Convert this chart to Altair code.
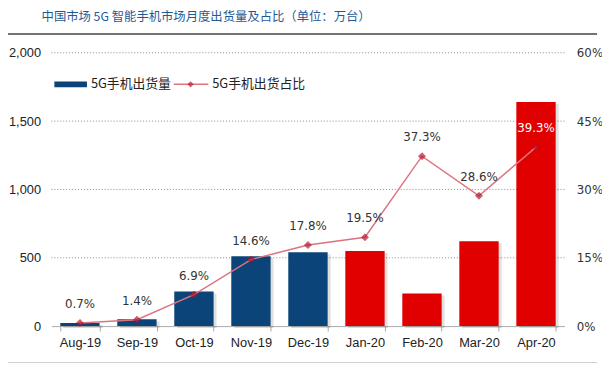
import altair as alt
import pandas as pd

months = ["Aug-19", "Sep-19", "Oct-19", "Nov-19", "Dec-19", "Jan-20", "Feb-20", "Mar-20", "Apr-20"]
shipments = [22, 50, 253, 512, 541, 549, 238, 621, 1639]
share = [0.7, 1.4, 6.9, 14.6, 17.8, 19.5, 37.3, 28.6, 39.3]
period = ["2019", "2019", "2019", "2019", "2019", "2020", "2020", "2020", "2020"]
label_color = ["dark"] * 8 + ["light"]
left_ticks = [0, 500, 1000, 1500, 2000]
right_ticks = [0, 15, 30, 45, 60]

df = pd.DataFrame({"month": months, "shipments": shipments, "share": share,
                   "period": period, "lc": label_color})
df["label"] = [f"{v:.1f}%" for v in share]

BLUE = "#0b4478"
RED = "#e00000"
LINE = "#dc7480"
MARK = "#c41230"

xenc = alt.X("month:N", sort=months, title=None,
             scale=alt.Scale(paddingInner=0.31, paddingOuter=0.155),
             axis=alt.Axis(labelAngle=0, labelFont="Liberation Sans", labelFontSize=13,
                           labelColor="#222", labelPadding=6, domainColor="#aaa",
                           tickColor="#aaa", tickSize=5, tickBand="extent",
                           bandPosition=0, grid=False))

left_axis = alt.Axis(values=left_ticks, format=",d", grid=False,
                     domain=False, ticks=False,
                     labelFont="Liberation Sans", labelFontSize=13, labelColor="#222",
                     labelPadding=11)
lscale = alt.Scale(domain=[0, 2000])
yl = alt.Y("shipments:Q", title=None, scale=lscale, axis=left_axis)

base = alt.Chart(df)

grid = alt.Chart(pd.DataFrame({"g": left_ticks[1:]})).mark_rule(
    color="#888", strokeDash=[1, 2], strokeWidth=1).encode(
    y=alt.Y("g:Q", title=None, scale=lscale, axis=left_axis))

shadow = base.mark_bar(color="#000", opacity=0.12, xOffset=3, yOffset=2).encode(x=xenc, y=yl)

bars = base.mark_bar().encode(
    x=xenc, y=yl,
    color=alt.Color("period:N", scale=alt.Scale(domain=["2019", "2020"], range=[BLUE, RED]),
                    legend=None),
)

yr = alt.Y("share:Q", title=None, scale=alt.Scale(domain=[0, 60]),
           axis=alt.Axis(orient="right", values=right_ticks, labelExpr="datum.value + '%'",
                         grid=False, domain=False, ticks=False, labelFont="DejaVu Sans",
                         labelFontSize=12, labelColor="#333", labelPadding=12))

line = base.mark_line(color=LINE, strokeWidth=1.5).encode(x=xenc, y=yr)
pts = base.mark_point(shape="diamond", filled=True, size=50, color=MARK,
                      stroke="#9a0d22", strokeWidth=0.8).encode(x=xenc, y=yr)
txt = base.mark_text(dy=-19, fontSize=12, font="DejaVu Sans").encode(
    x=xenc, y=yr, text="label:N",
    color=alt.Color("lc:N", scale=alt.Scale(domain=["dark", "light"], range=["#333", "#fff"]),
                    legend=None),
)

one = alt.Chart(pd.DataFrame({"a": [0]}))
leg_rect = one.mark_rect(color=BLUE).encode(x=alt.value(3), x2=alt.value(36),
                                           y=alt.value(29), y2=alt.value(35))
leg_t1 = one.mark_text(align="left", baseline="middle", fontSize=13,
                       font="Noto Sans CJK SC", color="#222").encode(
    x=alt.value(40), y=alt.value(32), text=alt.value("5G手机出货量"))
leg_line = one.mark_rule(color=LINE, strokeWidth=1.5).encode(
    x=alt.value(124), x2=alt.value(159), y=alt.value(32))
leg_pt = one.mark_point(shape="diamond", filled=True, size=40, color=MARK).encode(
    x=alt.value(141), y=alt.value(32))
leg_t2 = one.mark_text(align="left", baseline="middle", fontSize=13,
                       font="Noto Sans CJK SC", color="#222").encode(
    x=alt.value(163), y=alt.value(32), text=alt.value("5G手机出货占比"))

top_rule = one.mark_rule(color="#444", strokeWidth=1.5).encode(
    x=alt.value(-48), x2=alt.value(553), y=alt.value(-19))
bot_rule = one.mark_rule(color="#444", strokeWidth=1.5).encode(
    x=alt.value(-48), x2=alt.value(553), y=alt.value(315))

chart = alt.layer(
    alt.layer(grid, shadow, bars).resolve_scale(color="independent"),
    alt.layer(line, pts, txt),
    leg_rect, leg_t1, leg_line, leg_pt, leg_t2, top_rule, bot_rule,
).resolve_scale(y="independent", color="independent").properties(
    width=520, height=277,
    autosize=alt.AutoSizeParams(type="none"),
    padding={"left": 44, "top": 43, "right": 38, "bottom": 35},
    title=alt.Title("中国市场 5G 智能手机市场月度出货量及占比（单位：万台）", anchor="start",
                    frame="group", dx=-10, offset=10, fontSize=12.5, fontWeight="normal",
                    font="Noto Sans CJK SC", color="#1f5a96"),
).configure_view(stroke=None)

chart.save("out.html", embed_options={"renderer": "svg", "actions": False})
